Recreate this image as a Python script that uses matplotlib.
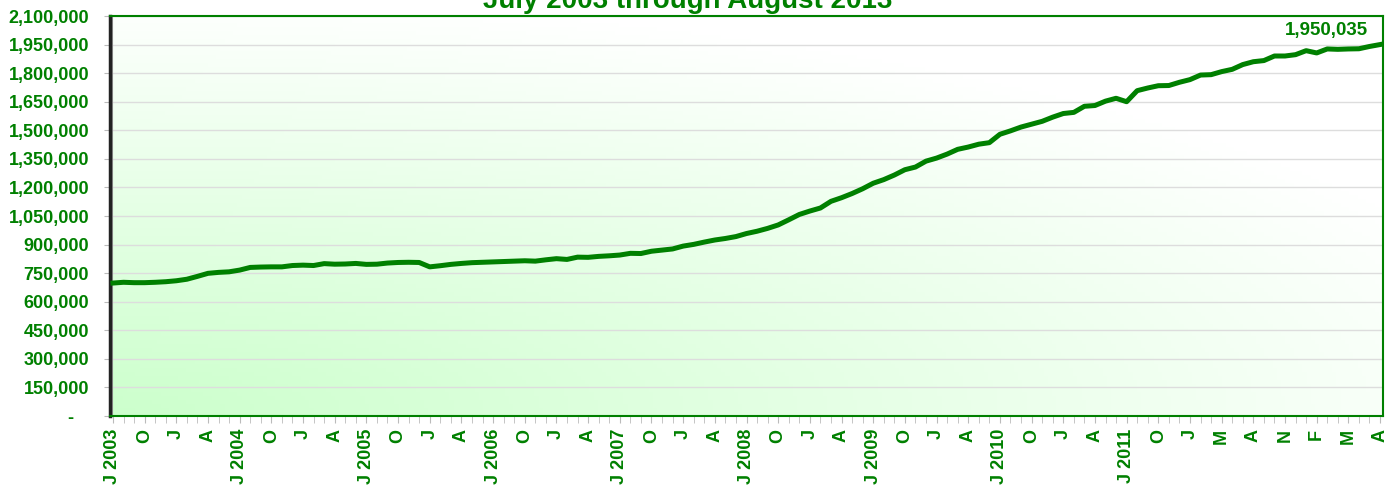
import matplotlib
matplotlib.use('Agg')
import matplotlib.pyplot as plt
import numpy as np

plt.rcParams['font.family'] = ['Liberation Sans', 'DejaVu Sans']

GREEN = '#008000'

# monthly totals, Jul 2003 .. Aug 2013 (one month missing in early 2012)
values = [
    698000, 702000, 700000, 700000, 702000, 705000, 710000, 718000, 733000, 749000,
    754000, 757000, 766000, 780000, 782000, 783000, 783000, 790000, 792000, 790000,
    800000, 797000, 798000, 801000, 796000, 797000, 803000, 806000, 807000, 806000,
    783000, 789000, 796000, 801000, 805000, 807000, 809000, 811000, 813000, 815000,
    813000, 820000, 826000, 822000, 834000, 833000, 838000, 841000, 845000, 854000,
    853000, 865000, 871000, 877000, 892000, 901000, 913000, 924000, 932000, 942000,
    958000, 970000, 985000, 1003000, 1030000, 1058000, 1076000, 1092000, 1127000, 1146000,
    1168000, 1193000, 1222000, 1241000, 1265000, 1293000, 1307000, 1338000, 1354000, 1375000,
    1400000, 1412000, 1427000, 1435000, 1479000, 1497000, 1517000, 1532000, 1547000, 1569000,
    1588000, 1594000, 1626000, 1630000, 1653000, 1668000, 1650000, 1708000, 1722000, 1734000,
    1735000, 1752000, 1766000, 1790000, 1792000, 1808000, 1820000, 1845000, 1860000, 1866000,
    1890000, 1890000, 1897000, 1918000, 1906000, 1927000, 1925000, 1927000, 1928000, 1940000,
    1950035,
]

# one label every third month
tick_labels = [
    'J 2003', 'O', 'J', 'A', 'J 2004', 'O', 'J', 'A', 'J 2005', 'O', 'J', 'A',
    'J 2006', 'O', 'J', 'A', 'J 2007', 'O', 'J', 'A', 'J 2008', 'O', 'J', 'A',
    'J 2009', 'O', 'J', 'A', 'J 2010', 'O', 'J', 'A', 'J 2011', 'O', 'J', 'M',
    'A', 'N', 'F', 'M', 'A',
]

y_ticks = list(range(0, 2100001, 150000))
y_labels = ['-   '] + ['{:,}'.format(v) for v in y_ticks[1:]]

x = np.arange(len(values))

fig = plt.figure(figsize=(13.96, 4.86), dpi=100)
ax = fig.add_axes([110 / 1396, 1 - 416 / 486, 1273 / 1396, 400 / 486])

# gradient fill: light green bottom-left fading to white top-right
gx, gy = np.meshgrid(np.linspace(0, 1, 300), np.linspace(0, 1, 100))
t = np.clip(np.sqrt((gx * 1.0) ** 2 + (gy * 1.1) ** 2) / 1.15, 0, 1)
low = np.array([204, 255, 204]) / 255
img = low[None, None, :] * (1 - t[..., None]) + np.ones(3)[None, None, :] * t[..., None]
ax.imshow(img, extent=[0, 1, 0, 1], transform=ax.transAxes, origin='lower',
          aspect='auto', zorder=0)

ax.set_xlim(-0.28, len(values) - 1 + 0.28)
ax.set_ylim(0, 2100000)

ax.set_yticks(y_ticks)
ax.set_yticklabels(y_labels)
ax.grid(axis='y', color='#dddddd', linewidth=1, zorder=1)

ax.set_xticks(x[::3])
ax.set_xticklabels(tick_labels, rotation=90)
ax.set_xticks(x, minor=True)

ax.plot(x, values, color=GREEN, linewidth=3.6, solid_joinstyle='round', zorder=3)

ax.annotate('1,950,035', (x[-1], values[-1]), xytext=(-9, 4), textcoords='offset points',
            ha='right', va='bottom', color=GREEN, fontsize=13.5, fontweight='bold')

for lab in ax.get_yticklabels() + ax.get_xticklabels():
    lab.set_color(GREEN)
    lab.set_fontweight('bold')
    lab.set_fontsize(13)

ax.tick_params(axis='y', length=4, color='#bbbbbb', pad=11)
ax.tick_params(axis='x', which='both', length=5, color='#bbbbbb', pad=4)

for side in ['top', 'right', 'bottom']:
    ax.spines[side].set_color(GREEN)
    ax.spines[side].set_linewidth(1.5)
ax.spines['left'].set_color('#222222')
ax.spines['left'].set_linewidth(2.5)
ax.axvline(ax.get_xlim()[0] + 0.2, color='#999999', linewidth=1.5, zorder=2)

# title sits mostly above the top edge, as in the source image
fig.text(688 / 1396, 1 - 8 / 486, 'July 2003 through August 2013', ha='center',
         va='baseline', color=GREEN, fontsize=20, fontweight='bold')

fig.savefig('out.png', dpi=100)
